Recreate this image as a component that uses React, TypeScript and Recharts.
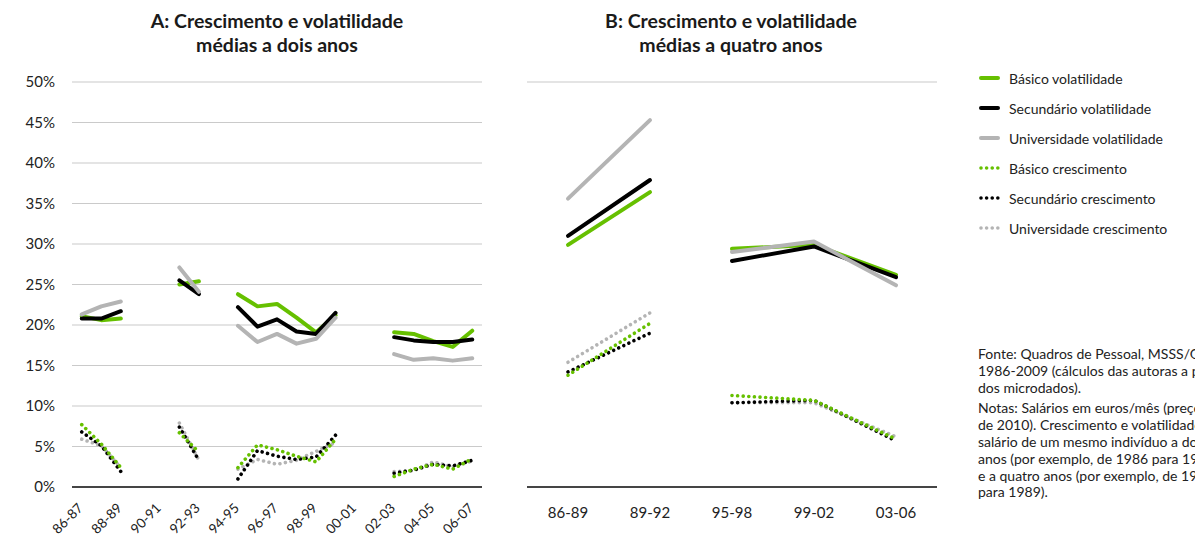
import React from "react";
import { LineChart, Line, XAxis, YAxis, CartesianGrid } from "recharts";

const FONT = "Lato, 'Noto Sans', sans-serif";
const GREEN = "#66c000";
const BLACK = "#000000";
const GRAY = "#b4b4b4";

const yTicks = [0, 5, 10, 15, 20, 25, 30, 35, 40, 45, 50];

// Panel A: two-year averages
const categoriesA = [
  "86-87", "87-88", "88-89", "89-90", "90-91", "91-92", "92-93", "93-94", "94-95", "95-96",
  "96-97", "97-98", "98-99", "99-00", "00-01", "01-02", "02-03", "03-04", "04-05", "05-06", "06-07",
];
const basVolA = [21.1, 20.6, 20.8, null, null, 25.0, 25.4, null, 23.8, 22.3, 22.6, 20.9, 19.1, 21.2, null, null, 19.1, 18.9, 18.0, 17.3, 19.3];
const secVolA = [20.8, 20.8, 21.7, null, null, 25.5, 23.8, null, 22.2, 19.8, 20.7, 19.2, 18.9, 21.5, null, null, 18.5, 18.1, 17.9, 17.9, 18.2];
const uniVolA = [21.3, 22.3, 22.9, null, null, 27.1, 24.1, null, 19.9, 17.9, 18.9, 17.7, 18.3, 20.9, null, null, 16.4, 15.7, 15.9, 15.6, 15.9];
const basCreA = [7.7, 5.3, 2.4, null, null, 6.7, 4.3, null, 2.4, 5.2, 4.6, 3.8, 3.1, 5.9, null, null, 1.3, 2.2, 2.8, 2.2, 3.5];
const secCreA = [6.8, 5.1, 1.9, null, null, 7.4, 3.3, null, 1.0, 4.5, 3.8, 3.4, 3.7, 6.4, null, null, 1.7, 2.1, 2.8, 2.6, 3.3];
const uniCreA = [5.9, 5.1, 2.4, null, null, 7.9, 3.3, null, 2.2, 3.4, 2.8, 3.3, 4.4, 5.5, null, null, 1.9, 2.0, 3.1, 2.5, 3.2];

// Panel B: four-year averages (first segment = first two periods, second = last three)
const categoriesB = ["86-89", "89-92", "95-98", "99-02", "03-06"];
const basVolB = [29.9, 36.4, 29.4, 29.9, 26.2];
const secVolB = [31.0, 37.9, 27.9, 29.7, 25.9];
const uniVolB = [35.6, 45.3, 29.0, 30.3, 24.9];
const basCreB = [13.8, 20.2, 11.3, 10.7, 5.9];
const secCreB = [14.2, 19.0, 10.4, 10.7, 5.7];
const uniCreB = [15.4, 21.5, 10.4, 10.4, 6.2];
const segmentB = [1, 1, 2, 2, 2];

const dataA = categoriesA.map((cat, i) => ({
  cat,
  basVol: basVolA[i],
  secVol: secVolA[i],
  uniVol: uniVolA[i],
  basCre: basCreA[i],
  secCre: secCreA[i],
  uniCre: uniCreA[i],
}));

const seriesB: Record<string, (number | null)[]> = {
  basVol: basVolB,
  secVol: secVolB,
  uniVol: uniVolB,
  basCre: basCreB,
  secCre: secCreB,
  uniCre: uniCreB,
};

const dataB = categoriesB.map((cat, i) => {
  const row: Record<string, any> = { cat };
  Object.keys(seriesB).forEach((k) => {
    row[k + "1"] = segmentB[i] === 1 ? seriesB[k][i] : null;
    row[k + "2"] = segmentB[i] === 2 ? seriesB[k][i] : null;
  });
  return row;
});

const legendItems = [
  { label: "Básico volatilidade", color: GREEN, dotted: false },
  { label: "Secundário volatilidade", color: BLACK, dotted: false },
  { label: "Universidade volatilidade", color: GRAY, dotted: false },
  { label: "Básico crescimento", color: GREEN, dotted: true },
  { label: "Secundário crescimento", color: BLACK, dotted: true },
  { label: "Universidade crescimento", color: GRAY, dotted: true },
];

const notesLines1 = [
  "Fonte: Quadros de Pessoal, MSSS/GEP,",
  "1986-2009 (cálculos das autoras a partir",
  "dos microdados).",
];
const notesLines2 = [
  "Notas: Salários em euros/mês (preços",
  "de 2010). Crescimento e volatilidade do",
  "salário de um mesmo indivíduo a dois",
  "anos (por exemplo, de 1986 para 1987)",
  "e a quatro anos (por exemplo, de 1986",
  "para 1989).",
];

const volStyle = { strokeWidth: 4, strokeLinecap: "round" as const, strokeLinejoin: "round" as const };
const dotStyle = { strokeWidth: 3.6, strokeLinecap: "round" as const, strokeDasharray: "0.01 5.6" };

const RotTick = (props: any) => {
  const { x, y, payload } = props;
  return (
    <g transform={`translate(${x + 2},${y + 14})`}>
      <text transform="rotate(-45)" textAnchor="end" fontSize={13.5} fill="#222" fontFamily={FONT}>
        {payload.value}
      </text>
    </g>
  );
};

function renderLines(suffix: string) {
  return [
    <Line key={"uc" + suffix} dataKey={"uniCre" + suffix} stroke={GRAY} dot={false} isAnimationActive={false} {...dotStyle} />,
    <Line key={"sc" + suffix} dataKey={"secCre" + suffix} stroke={BLACK} dot={false} isAnimationActive={false} {...dotStyle} />,
    <Line key={"bc" + suffix} dataKey={"basCre" + suffix} stroke={GREEN} dot={false} isAnimationActive={false} {...dotStyle} />,
    <Line key={"bv" + suffix} dataKey={"basVol" + suffix} stroke={GREEN} dot={false} isAnimationActive={false} {...volStyle} />,
    <Line key={"sv" + suffix} dataKey={"secVol" + suffix} stroke={BLACK} dot={false} isAnimationActive={false} {...volStyle} />,
    <Line key={"uv" + suffix} dataKey={"uniVol" + suffix} stroke={GRAY} dot={false} isAnimationActive={false} {...volStyle} />,
  ];
}

const titleStyle: React.CSSProperties = {
  position: "absolute",
  fontFamily: FONT,
  fontWeight: 700,
  fontSize: 19.5,
  lineHeight: "24px",
  color: "#1a1a1a",
  textAlign: "center",
  width: 400,
};

export default function App() {
  return (
    <div
      style={{
        position: "relative",
        width: 1195,
        height: 530,
        overflow: "hidden",
        fontFamily: FONT,
        background: "#fff",
      }}
    >
      <div style={{ ...titleStyle, left: 269 - 200, top: 1 }}>
        A: Crescimento e volatilidade
        <br />
        médias a dois anos
      </div>
      <div style={{ ...titleStyle, left: 723 - 200, top: 1 }}>
        B: Crescimento e volatilidade
        <br />
        médias a quatro anos
      </div>

      <div style={{ position: "absolute", left: 0, top: 0 }}>
        <LineChart width={480} height={530} data={dataA} margin={{ top: 74, right: 6, left: 4, bottom: 0 }}>
          <CartesianGrid vertical={false} stroke="#cacaca" strokeWidth={1.2} />
          <XAxis
            dataKey="cat"
            scale="band"
            interval={1}
            tickLine={false}
            axisLine={{ stroke: "#111", strokeWidth: 1.5 }}
            height={51}
            tick={<RotTick />}
          />
          <YAxis
            domain={[0, 50]}
            ticks={yTicks}
            width={60}
            tickLine={false}
            axisLine={false}
            tickMargin={11}
            tickFormatter={(v: number) => `${v}%`}
            tick={{ fontSize: 15, fill: "#222", fontFamily: FONT } as any}
          />
          {renderLines("")}
        </LineChart>
      </div>

      <div style={{ position: "absolute", left: 480, top: 0 }}>
        <LineChart width={460} height={530} data={dataB} margin={{ top: 74, right: 11, left: 39, bottom: 0 }}>
          <CartesianGrid vertical={false} stroke="#cacaca" strokeWidth={1.2} />
          <XAxis
            dataKey="cat"
            scale="band"
            interval={0}
            tickLine={false}
            axisLine={{ stroke: "#111", strokeWidth: 1.5 }}
            height={51}
            tickMargin={14}
            tick={{ fontSize: 15, fill: "#222", fontFamily: FONT } as any}
          />
          <YAxis domain={[0, 50]} ticks={yTicks} width={0} tick={false} tickLine={false} axisLine={false} />
          {renderLines("1")}
          {renderLines("2")}
        </LineChart>
      </div>

      <div style={{ position: "absolute", left: 971, top: 55 }}>
        {legendItems.map((it, i) => (
          <div key={i} style={{ display: "flex", alignItems: "center", height: 30 }}>
            <svg width={22} height={10} style={{ marginRight: 8 }}>
              {it.dotted ? (
                <line x1={2} y1={5} x2={19} y2={5} stroke={it.color} strokeWidth={3.6} strokeLinecap="round" strokeDasharray="0.01 5.6" />
              ) : (
                <line x1={2} y1={5} x2={19} y2={5} stroke={it.color} strokeWidth={4} strokeLinecap="round" />
              )}
            </svg>
            <span style={{ fontSize: 14, color: "#222", whiteSpace: "nowrap" }}>{it.label}</span>
          </div>
        ))}
      </div>

      <div
        style={{
          position: "absolute",
          left: 970,
          top: 338,
          fontSize: 14,
          lineHeight: "16.8px",
          color: "#222",
          whiteSpace: "nowrap",
        }}
      >
        {notesLines1.map((l, i) => (
          <div key={i}>{l}</div>
        ))}
        <div style={{ height: 4 }} />
        {notesLines2.map((l, i) => (
          <div key={i}>{l}</div>
        ))}
      </div>
    </div>
  );
}
